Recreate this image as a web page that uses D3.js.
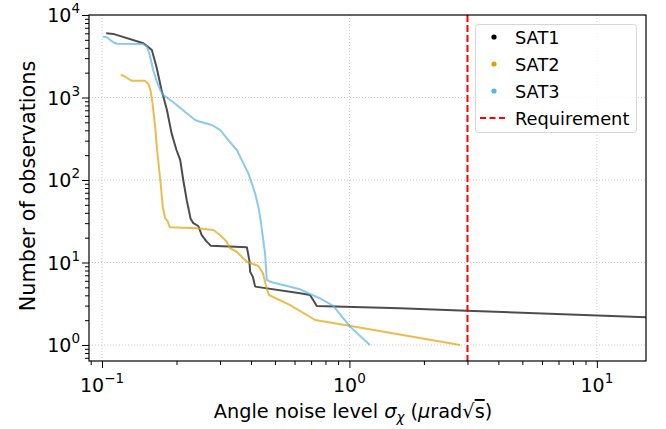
<!DOCTYPE html>
<html>
<head>
<meta charset="utf-8">
<script src="https://cdn.jsdelivr.net/npm/d3@7"></script>
<style>
  body { margin: 0; background: #fff; }
  text { font-family: "DejaVu Sans", sans-serif; fill: #000; }
</style>
</head>
<body>
<svg width="666" height="429"></svg>
<script>
// values (x: angle noise level, y: number of observations)
const sat1X = [0.104, 0.111, 0.147, 0.152, 0.159, 0.166, 0.174, 0.183, 0.191, 0.200, 0.207, 0.213, 0.220, 0.228, 0.234, 0.245, 0.253, 0.265, 0.275, 0.385, 0.394, 0.397, 0.407, 0.416, 0.632, 0.693, 0.738, 1.6, 2.98, 20];
const sat1Y = [6000, 5900, 4550, 4200, 3770, 2360, 1230, 705, 370, 231, 175, 100, 57, 34, 30, 27.7, 21.5, 17.9, 16, 15.3, 10.7, 7.7, 6.7, 5.1, 4.23, 4.04, 2.97, 2.79, 2.6, 2.12];

const sat2X = [0.119, 0.122, 0.130, 0.132, 0.149, 0.154, 0.157, 0.160, 0.164, 0.167, 0.172, 0.176, 0.180, 0.184, 0.188, 0.2415, 0.282, 0.300, 0.319, 0.329, 0.350, 0.385, 0.4285, 0.447, 0.463, 0.473, 0.576, 0.727, 1.0, 2.8];
const sat2Y = [1870, 1840, 1630, 1600, 1600, 1460, 1230, 850, 443, 231, 100, 47.5, 34.3, 32, 26.7, 26, 24.8, 21.5, 17.9, 14.9, 13.5, 10.2, 9.07, 7.4, 4.87, 4.04, 3.05, 2.01, 1.71, 1.0];

const sat3X = [0.101, 0.1045, 0.111, 0.115, 0.147, 0.152, 0.156, 0.161, 0.1665, 0.172, 0.177, 0.185, 0.2005, 0.220, 0.238, 0.249, 0.278, 0.300, 0.324, 0.3505, 0.373, 0.3905, 0.403, 0.4155, 0.4285, 0.4395, 0.4466, 0.456, 0.4634, 0.478, 0.632, 0.693, 0.761, 0.862, 1.006, 1.21];
const sat3Y = [5450, 5370, 4670, 4490, 4450, 4130, 3275, 2150, 1555, 1230, 1070, 978, 811, 643, 534, 509, 464, 404, 305, 231, 159, 120, 91, 69, 47.5, 29.9, 20.5, 12.9, 6.14, 5.85, 4.73, 4.15, 3.68, 2.97, 1.67, 1.0];

const seriesNames = ['SAT1', 'SAT2', 'SAT3'];
const seriesColors = ['#000000', '#E69F00', '#56B4E9'];
const requirement = 3;
const xMajorTicks = [0.1, 1, 10];
const yMajorTicks = [1, 10, 100, 1000, 10000];

const svg = d3.select('svg');
const mLeft = 89, mRight = 646, mTop = 15, mBottom = 361;

const x = d3.scaleLog().domain([0.0886, 15.8]).range([mLeft, mRight]);
const y = d3.scaleLog().domain([0.64, 10000]).range([mBottom, mTop]);

const minorTicks = (lo, hi) => {
  const out = [];
  for (let e = lo; e <= hi; e++) for (let k = 2; k <= 9; k++) out.push(k * Math.pow(10, e));
  return out;
};
const xMinor = minorTicks(-2, 1).filter(v => v >= x.domain()[0] && v <= x.domain()[1]);
const yMinor = minorTicks(-1, 3).filter(v => v >= y.domain()[0] && v <= y.domain()[1]);

// grid
const grid = svg.append('g').attr('stroke', '#c4c4c4').attr('stroke-width', 0.9).attr('stroke-dasharray', '1,2');
grid.selectAll('.gx').data(xMajorTicks).join('line')
  .attr('x1', d => x(d)).attr('x2', d => x(d)).attr('y1', mTop).attr('y2', mBottom);
grid.selectAll('.gy').data(yMajorTicks.filter(v => v < 10000)).join('line')
  .attr('y1', d => y(d)).attr('y2', d => y(d)).attr('x1', mLeft).attr('x2', mRight);

// lines
svg.append('clipPath').attr('id', 'clip')
  .append('rect').attr('x', mLeft).attr('y', mTop).attr('width', mRight - mLeft).attr('height', mBottom - mTop);

const line = d3.line().x(d => x(d[0])).y(d => y(d[1]));
const series = [
  d3.zip(sat1X, sat1Y),
  d3.zip(sat2X, sat2Y),
  d3.zip(sat3X, sat3Y)
];
const plot = svg.append('g').attr('clip-path', 'url(#clip)');
plot.selectAll('path.series').data(series).join('path')
  .attr('class', 'series')
  .attr('d', line)
  .attr('fill', 'none')
  .attr('stroke', (d, i) => seriesColors[i])
  .attr('stroke-opacity', 0.7)
  .attr('stroke-width', 2)
  .attr('stroke-linejoin', 'round');

plot.append('line')
  .attr('x1', x(requirement)).attr('x2', x(requirement))
  .attr('y1', mTop).attr('y2', mBottom)
  .attr('stroke', '#ff0000').attr('stroke-width', 2).attr('stroke-dasharray', '7,3');

// axes
svg.append('g').attr('transform', `translate(0,${mBottom})`)
  .call(d3.axisBottom(x).tickValues(xMajorTicks).tickSize(7).tickFormat(''));
svg.append('g').attr('transform', `translate(0,${mBottom})`)
  .call(d3.axisBottom(x).tickValues(xMinor).tickSize(4).tickFormat(''));
svg.append('g').attr('transform', `translate(${mLeft},0)`)
  .call(d3.axisLeft(y).tickValues(yMajorTicks).tickSize(7).tickFormat(''));
svg.append('g').attr('transform', `translate(${mLeft},0)`)
  .call(d3.axisLeft(y).tickValues(yMinor).tickSize(4).tickFormat(''));
svg.selectAll('.domain').remove();
svg.selectAll('.tick line').attr('stroke', '#000').attr('stroke-width', 1);

svg.append('rect')
  .attr('x', mLeft).attr('y', mTop).attr('width', mRight - mLeft).attr('height', mBottom - mTop)
  .attr('fill', 'none').attr('stroke', '#000').attr('stroke-width', 1.2);

// tick labels 10^k
const exp = v => Math.round(Math.log10(v)).toString().replace('-', '\u2212');
const yl = svg.append('g').attr('font-size', 19);
yMajorTicks.forEach(v => {
  const t = yl.append('text').attr('x', 80).attr('y', y(v) + 7).attr('text-anchor', 'end');
  t.append('tspan').text('10');
  t.append('tspan').attr('dy', -9).attr('font-size', 13.5).text(exp(v));
});
const xl = svg.append('g').attr('font-size', 19);
xMajorTicks.forEach(v => {
  const t = xl.append('text').attr('x', x(v)).attr('y', 392).attr('text-anchor', 'middle');
  t.append('tspan').text('10');
  t.append('tspan').attr('dy', -9).attr('font-size', 13.5).text(exp(v));
});

// axis labels
const xlab = svg.append('text').attr('x', 353).attr('y', 418).attr('text-anchor', 'middle').attr('font-size', 19.3);
xlab.append('tspan').text('Angle noise level ');
xlab.append('tspan').attr('font-style', 'italic').text('σ');
xlab.append('tspan').attr('font-style', 'italic').attr('font-size', 13.5).attr('dy', 4).text('χ');
xlab.append('tspan').attr('dy', -4).text(' (');
xlab.append('tspan').attr('font-style', 'italic').text('μ');
xlab.append('tspan').text('rad√');
xlab.append('tspan').attr('text-decoration', 'overline').text('s');
xlab.append('tspan').text(')');

svg.append('text')
  .attr('transform', 'translate(35,186) rotate(-90)')
  .attr('text-anchor', 'middle').attr('font-size', 20.8)
  .text('Number of observations');

// legend
const lg = svg.append('g');
lg.append('rect').attr('x', 475.5).attr('y', 24.5).attr('width', 161).attr('height', 108)
  .attr('rx', 3).attr('fill', '#fff').attr('fill-opacity', 0.8).attr('stroke', '#d6d6d6');
const rowY = [37, 64, 91];
seriesNames.forEach((name, i) => {
  lg.append('circle').attr('cx', 494).attr('cy', rowY[i]).attr('r', 2.6).attr('fill', seriesColors[i]);
  lg.append('text').attr('x', 515).attr('y', rowY[i] + 6.5).attr('font-size', 17.8).text(name);
});
lg.append('line').attr('x1', 480).attr('x2', 508).attr('y1', 118).attr('y2', 118)
  .attr('stroke', '#ff0000').attr('stroke-width', 2).attr('stroke-dasharray', '6,3.5');
lg.append('text').attr('x', 515).attr('y', 124.5).attr('font-size', 17.8).text('Requirement');
</script>
</body>
</html>
